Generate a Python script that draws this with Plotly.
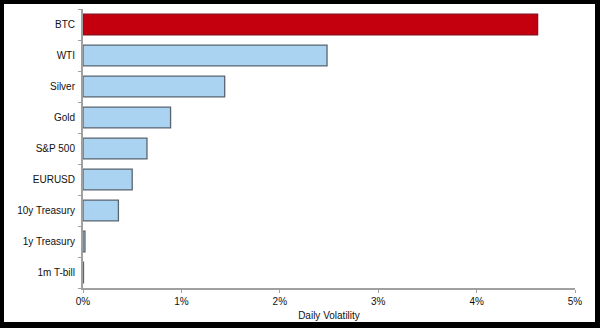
import plotly.graph_objects as go

categories = ["1m T-bill", "1y Treasury", "10y Treasury", "EURUSD", "S&P 500", "Gold", "Silver", "WTI", "BTC"]
volatility = [0.005, 0.02, 0.36, 0.50, 0.65, 0.89, 1.44, 2.48, 4.62]
tick_vals = [0, 1, 2, 3, 4, 5]
tick_text = ["0%", "1%", "2%", "3%", "4%", "5%"]

fill_colors = ["#C4000F" if c == "BTC" else "#A9D3F0" for c in categories]
line_colors = ["#8A1020" if c == "BTC" else "#5A6570" for c in categories]

fig = go.Figure(go.Bar(
    x=volatility, y=categories, orientation="h",
    marker=dict(color=fill_colors, line=dict(color=line_colors, width=1.3)),
))

L, R, T, B = 83, 25, 9, 40
W, H = 600, 328
pw, ph = W - L - R, H - T - B

def px_x(p):
    return (p - L) / pw

def px_y(p):
    return (H - B - p) / ph

fig.add_shape(type="rect", xref="paper", yref="paper",
              x0=px_x(4), x1=px_x(595), y0=px_y(322), y1=px_y(4),
              fillcolor="white", line=dict(width=0), layer="below")

fig.update_layout(
    width=W, height=H,
    margin=dict(l=L, r=R, t=T, b=B),
    paper_bgcolor="black", plot_bgcolor="white",
    bargap=0.33, showlegend=False,
    font=dict(family="Liberation Sans, Arial, sans-serif", size=10, color="#111"),
)
fig.update_xaxes(
    range=[0, 5], tickvals=tick_vals, ticktext=tick_text,
    showgrid=False, zeroline=False,
    showline=True, linecolor="#a0a0a0", linewidth=2,
    ticks="outside", ticklen=3, tickcolor="#a0a0a0",
    tickfont=dict(size=10, color="#111"),
    title=dict(text="Daily Volatility", font=dict(size=10, color="#111"), standoff=6),
)
fig.update_yaxes(
    showgrid=False, zeroline=False,
    showline=True, linecolor="#a0a0a0", linewidth=2,
    ticks="outside", ticklen=3, tickcolor="#a0a0a0", tickson="boundaries",
    ticklabelstandoff=4,
    tickfont=dict(size=10, color="#111"),
    range=[-0.5, 8.5],
)

fig.write_html("out.html")
